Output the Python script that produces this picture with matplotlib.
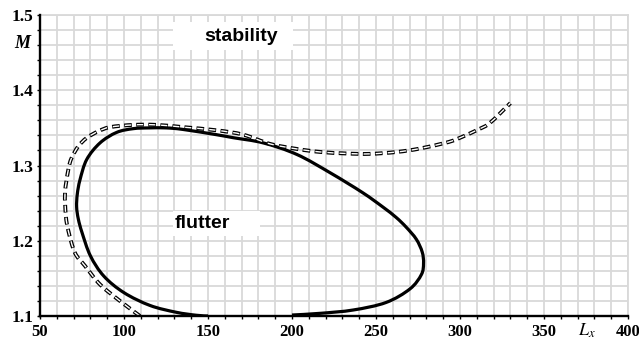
import matplotlib
matplotlib.use("Agg")
import matplotlib.pyplot as plt
from matplotlib.patches import Rectangle, PathPatch
from matplotlib.path import Path
from matplotlib.ticker import MultipleLocator

# solid boundary (flutter region)
solid_x = [150, 143, 131, 115.5, 100, 88, 80, 75, 72.8, 71.8, 72.2, 73.8, 77.8, 85.7,
           95.6, 105.5, 115, 125, 135, 155, 165, 183, 203, 223, 242, 254, 262, 268,
           274, 277.5, 278.3, 277, 270.2, 256, 236.5, 217, 200]
solid_y = [1.100, 1.101, 1.105, 1.114, 1.131, 1.153, 1.180, 1.211, 1.229, 1.245, 1.262,
           1.281, 1.308, 1.330, 1.344, 1.349, 1.350, 1.350, 1.348, 1.341, 1.337, 1.330,
           1.3146, 1.290, 1.264, 1.245, 1.231, 1.218, 1.202, 1.185, 1.170, 1.155, 1.136,
           1.118, 1.108, 1.1036, 1.1013]

# dashed boundary
dash_x = [109.5, 97.6, 85.7, 76.8, 70.8, 66.9, 65.4, 64.9, 66.9, 68.8, 72.8, 77.8, 84.7,
          91.7, 105.5, 119.4, 135.3, 155.2, 171, 187, 203, 217, 232.5, 246.4, 262.3,
          276, 291, 298, 311, 318, 330]
dash_y = [1.100, 1.120, 1.142, 1.1666, 1.184, 1.213, 1.233, 1.264, 1.295, 1.310, 1.3256,
          1.3367, 1.3455, 1.351, 1.354, 1.354, 1.351, 1.3468, 1.341, 1.3287, 1.322,
          1.318, 1.316, 1.3155, 1.318, 1.3225, 1.330, 1.335, 1.348, 1.357, 1.383]


def smooth_path(xs, ys):
    # Catmull-Rom through the read points, as cubic Bezier segments
    pts = list(zip(xs, ys))
    n = len(pts)
    verts = [pts[0]]
    codes = [Path.MOVETO]
    for i in range(n - 1):
        p0 = pts[i - 1] if i > 0 else pts[i]
        p1 = pts[i]
        p2 = pts[i + 1]
        p3 = pts[i + 2] if i + 2 < n else pts[i + 1]
        c1 = (p1[0] + (p2[0] - p0[0]) / 6, p1[1] + (p2[1] - p0[1]) / 6)
        c2 = (p2[0] - (p3[0] - p1[0]) / 6, p2[1] - (p3[1] - p1[1]) / 6)
        verts += [c1, c2, p2]
        codes += [Path.CURVE4] * 3
    return Path(verts, codes)


plt.rcParams['lines.scale_dashes'] = False

fig = plt.figure(figsize=(6.39, 3.42), dpi=100)
ax = fig.add_axes([0.0626, 0.076, 0.9202, 0.880])

ax.set_xlim(50, 400)
ax.set_ylim(1.1, 1.5)
ax.xaxis.set_major_locator(MultipleLocator(50))
ax.xaxis.set_minor_locator(MultipleLocator(10))
ax.yaxis.set_major_locator(MultipleLocator(0.1))
ax.yaxis.set_minor_locator(MultipleLocator(0.02))
ax.grid(which='both', color='#d9d9d9', linewidth=1.3, zorder=0)
ax.set_axisbelow(True)

for s in ['top', 'right']:
    ax.spines[s].set_color('#d9d9d9')
    ax.spines[s].set_linewidth(1.3)
for s in ['left', 'bottom']:
    ax.spines[s].set_color('black')
    ax.spines[s].set_linewidth(1.7)
    ax.spines[s].set_zorder(5)

ax.tick_params(which='both', direction='out', length=2.2, width=1, color='black',
               top=False, right=False)
ax.tick_params(axis='x', which='major', pad=3.5)
ax.tick_params(axis='y', which='major', pad=2.5)
ax.set_xticks([50, 100, 150, 200, 250, 300, 350, 400])
ax.set_xticklabels(["50", "100", "150", "200", "250", "300", "350", "400"],
                   family='Liberation Serif', fontsize=12, fontweight='bold')
ax.set_yticks([1.1, 1.2, 1.3, 1.4, 1.5])
ax.set_yticklabels(["1.1", "1.2", "1.3", "1.4", "1.5"],
                   family='Liberation Serif', fontsize=12.5, fontweight='bold')

# curves
ax.add_patch(PathPatch(smooth_path(solid_x, solid_y), facecolor='none', edgecolor='black',
                       lw=2.3, joinstyle='round', zorder=3))
dpath = smooth_path(dash_x, dash_y)
ax.add_patch(PathPatch(dpath, facecolor='none', edgecolor='black', lw=2.8,
                       linestyle=(0, (5.5, 3.2)), capstyle='butt', zorder=3))
ax.add_patch(PathPatch(dpath, facecolor='none', edgecolor='white', lw=1.0,
                       linestyle=(8.2, (4.5, 4.2)), capstyle='butt', zorder=4))

# region labels with white backgrounds
ax.add_patch(Rectangle((129, 1.4536), 71.6, 0.0371, facecolor='white', edgecolor='none', zorder=2))
ax.text(147.5, 1.4713, "stability", fontsize=14, fontweight='bold',
        family='Liberation Sans', ha='left', va='center', zorder=6)
ax.add_patch(Rectangle((129, 1.206), 52, 0.033, facecolor='white', edgecolor='none', zorder=2))
ax.text(130.4, 1.2232, "flutter", fontsize=14, fontweight='bold',
        family='Liberation Sans', ha='left', va='center', zorder=6)

# axis names
fig.text(22 / 639, 1 - 43 / 342, "M", fontsize=13, style='italic', fontweight='bold',
         family='Liberation Serif', ha='center', va='center')
fig.text(587 / 639, 1 - 331 / 342, r"$\mathbf{\mathit{L}}_{\mathit{x}}$", fontsize=13,
         ha='center', va='center', math_fontfamily='stix')

fig.savefig("out.png", dpi=100)
